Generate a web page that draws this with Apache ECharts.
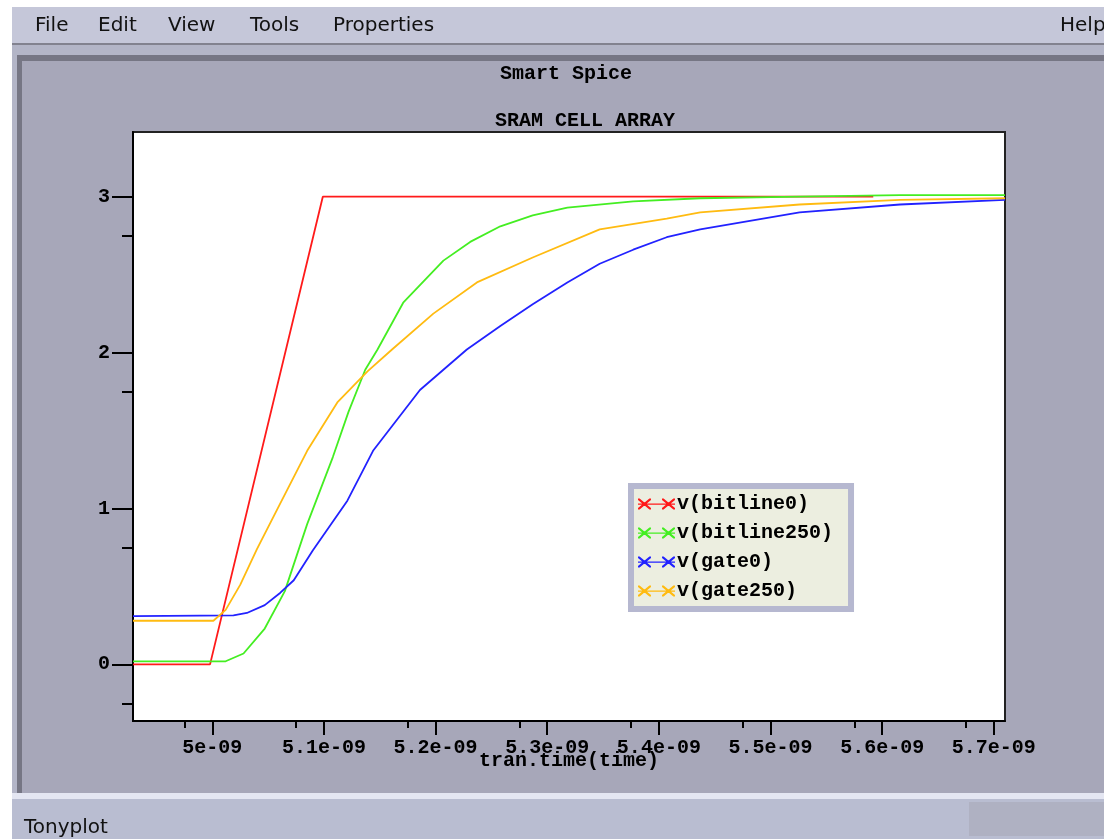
<!DOCTYPE html>
<html><head><meta charset="utf-8">
<script src="https://cdn.jsdelivr.net/npm/echarts@6/dist/echarts.min.js"></script>
<style>html,body{margin:0;padding:0;background:#fff}#c{width:1104px;height:839px}</style>
</head><body><div id="c"></div>
<script>
// time values in units of 1e-9 s
const bitline0T   = [4.929, 4.998, 5.099, 5.592];
const bitline0V   = [0.00, 0.00, 3.00, 3.00];
const bitline250T = [4.929, 5.012, 5.028, 5.047, 5.065, 5.085, 5.108, 5.122, 5.137, 5.148, 5.171, 5.207, 5.231, 5.258, 5.287, 5.318, 5.377, 5.437, 5.526, 5.616, 5.71];
const bitline250V = [0.02, 0.02, 0.07, 0.23, 0.47, 0.90, 1.33, 1.62, 1.89, 2.02, 2.32, 2.59, 2.71, 2.81, 2.88, 2.93, 2.97, 2.99, 3.00, 3.01, 3.01];
const gate0T      = [4.929, 5.019, 5.031, 5.047, 5.061, 5.073, 5.090, 5.121, 5.144, 5.186, 5.228, 5.258, 5.287, 5.318, 5.347, 5.377, 5.407, 5.437, 5.526, 5.616, 5.71];
const gate0V      = [0.31, 0.315, 0.33, 0.38, 0.46, 0.54, 0.73, 1.05, 1.37, 1.76, 2.02, 2.17, 2.31, 2.45, 2.57, 2.66, 2.74, 2.79, 2.90, 2.95, 2.98];
const gate250T    = [4.929, 5.001, 5.012, 5.025, 5.040, 5.060, 5.085, 5.112, 5.139, 5.161, 5.198, 5.237, 5.287, 5.347, 5.407, 5.437, 5.526, 5.616, 5.71];
const gate250V    = [0.28, 0.28, 0.35, 0.51, 0.74, 1.02, 1.37, 1.68, 1.88, 2.02, 2.25, 2.45, 2.61, 2.79, 2.86, 2.90, 2.95, 2.98, 2.99];

const seriesNames = ['v(bitline0)', 'v(bitline250)', 'v(gate0)', 'v(gate250)'];
const seriesColors = ['#ff1a1a', '#44ee22', '#2222ff', '#ffbb11'];

const xTickValues = [5.0, 5.1, 5.2, 5.3, 5.4, 5.5, 5.6, 5.7];
const xTickLabels = ['5e-09', '5.1e-09', '5.2e-09', '5.3e-09', '5.4e-09', '5.5e-09', '5.6e-09', '5.7e-09'];
const xMinorTicks = [4.975, 5.075, 5.175, 5.275, 5.375, 5.475, 5.575, 5.675];
const yTickValues = [0, 1, 2, 3];
const yTickLabels = ['0', '1', '2', '3'];
const yMinorTicks = [-0.25, 0.75, 1.75, 2.75];

const menuItems = ['File', 'Edit', 'View', 'Tools', 'Properties'];

const zip = (t, v) => t.map((x, i) => [x, v[i]]);
const seriesData = [zip(bitline0T, bitline0V), zip(bitline250T, bitline250V), zip(gate0T, gate0V), zip(gate250T, gate250V)];

const MONO = 'Liberation Mono';
const lab = {fontFamily: MONO, fontWeight: 'bold', fontSize: 20, color: '#000'};
const findLabel = (vals, labels) => v => { const i = vals.findIndex(t => Math.abs(t - v) < 1e-6); return i >= 0 ? labels[i] : ''; };

const iconPath = 'path://M0 4.9L37 4.9L37 6.2L0 6.2Z' +
  'M0 0L1.6 0L13 9.6L13 11L11.4 11L0 1.4Z' +
  'M13 0L13 1.4L1.6 11L0 11L0 9.6L11.4 0Z' +
  'M24 0L25.6 0L37 9.6L37 11L35.4 11L24 1.4Z' +
  'M37 0L37 1.4L25.6 11L24 11L24 9.6L35.4 0Z';

const menuX = [35, 98, 168, 250, 333];
const graphic = [
  {type: 'rect', z: -20, silent: true, shape: {x: 0, y: 0, width: 1104, height: 839}, style: {fill: '#ffffff'}},
  {type: 'rect', z: -19, silent: true, shape: {x: 12, y: 7, width: 1092, height: 37}, style: {fill: '#c5c7d9'}},
  {type: 'rect', z: -19, silent: true, shape: {x: 12, y: 43, width: 1092, height: 2}, style: {fill: '#82828f'}},
  {type: 'rect', z: -19, silent: true, shape: {x: 12, y: 45, width: 1092, height: 752}, style: {fill: '#b3b5c7'}},
  {type: 'rect', z: -18, silent: true, shape: {x: 17, y: 55, width: 1087, height: 740}, style: {fill: '#767684'}},
  {type: 'rect', z: -17, silent: true, shape: {x: 22, y: 61, width: 1082, height: 733}, style: {fill: '#a7a7b9'}},
  {type: 'rect', z: -17, silent: true, shape: {x: 12, y: 793, width: 1092, height: 6}, style: {fill: '#e4e6f2'}},
  {type: 'rect', z: -17, silent: true, shape: {x: 12, y: 799, width: 1092, height: 40}, style: {fill: '#b9bdd1'}},
  {type: 'rect', z: -16, silent: true, shape: {x: 969, y: 802, width: 135, height: 34}, style: {fill: '#afb1c2'}},
  {type: 'rect', z: -16, silent: true, shape: {x: 626, y: 481, width: 229, height: 133}, style: {fill: '#8e8ea6'}}
];
menuItems.forEach((m, i) => graphic.push({type: 'text', z: -15, silent: true, x: menuX[i], y: 26,
  style: {text: m, fill: '#111', font: '20px "DejaVu Sans"', textVerticalAlign: 'middle'}}));
graphic.push({type: 'text', z: -15, silent: true, x: 1060, y: 26, style: {text: 'Help', fill: '#111', font: '20px "DejaVu Sans"', textVerticalAlign: 'middle'}});
graphic.push({type: 'text', z: -15, silent: true, x: 24, y: 828, style: {text: 'Tonyplot', fill: '#111', font: '20px "DejaVu Sans"', textVerticalAlign: 'middle'}});

const chart = echarts.init(document.getElementById('c'), null, {renderer: 'canvas'});
chart.setOption({
  animation: false,
  backgroundColor: '#ffffff',
  graphic: graphic,
  title: [
    {text: 'Smart Spice', left: 500, top: 64, padding: 0, textStyle: lab},
    {text: 'SRAM CELL ARRAY', left: 495, top: 111, padding: 0, textStyle: lab}
  ],
  grid: {left: 133, top: 132, right: 99, bottom: 118, show: true, backgroundColor: '#ffffff', borderColor: '#222', borderWidth: 2},
  legend: {
    orient: 'vertical', left: 631, top: 486, padding: [8, 18, 8, 7], itemGap: 9,
    itemWidth: 37, itemHeight: 11, icon: iconPath, selectedMode: false,
    backgroundColor: '#eceee0', borderColor: '#b6b8d0', borderWidth: 6,
    itemStyle: {borderWidth: 0},
    textStyle: {fontFamily: MONO, fontWeight: 'bold', fontSize: 20, color: '#000', padding: [0, 0, 0, -3]},
    data: seriesNames
  },
  xAxis: [
    {type: 'value', min: 4.929, max: 5.71, position: 'bottom',
     axisLine: {onZero: false, lineStyle: {color: '#000', width: 2}},
     axisTick: {customValues: xTickValues, length: 14, lineStyle: {color: '#000', width: 2}},
     axisLabel: Object.assign({customValues: xTickValues, formatter: findLabel(xTickValues, xTickLabels), margin: 17}, lab),
     splitLine: {show: false},
     name: 'tran.time(time)', nameLocation: 'middle', nameGap: 30, nameMoveOverlap: false, nameTextStyle: lab},
    {type: 'value', min: 4.929, max: 5.71, position: 'bottom',
     axisLine: {show: false, onZero: false},
     axisTick: {customValues: xMinorTicks, length: 7, lineStyle: {color: '#000', width: 2}},
     axisLabel: {show: false}, splitLine: {show: false}}
  ],
  yAxis: [
    {type: 'value', min: -0.363, max: 3.415, position: 'left',
     axisLine: {onZero: false, lineStyle: {color: '#000', width: 2}},
     axisTick: {customValues: yTickValues, length: 21, lineStyle: {color: '#000', width: 2}},
     axisLabel: Object.assign({customValues: yTickValues, formatter: findLabel(yTickValues, yTickLabels), margin: 23}, lab),
     splitLine: {show: false}},
    {type: 'value', min: -0.363, max: 3.415, position: 'left',
     axisLine: {show: false, onZero: false},
     axisTick: {customValues: yMinorTicks, length: 11, lineStyle: {color: '#000', width: 2}},
     axisLabel: {show: false}, splitLine: {show: false}}
  ],
  series: seriesNames.map((n, i) => ({
    name: n, type: 'line', data: seriesData[i], xAxisIndex: 0, yAxisIndex: 0,
    showSymbol: false, symbol: 'none', color: seriesColors[i],
    lineStyle: {color: seriesColors[i], width: 1.8}
  }))
});
</script>
</body></html>
